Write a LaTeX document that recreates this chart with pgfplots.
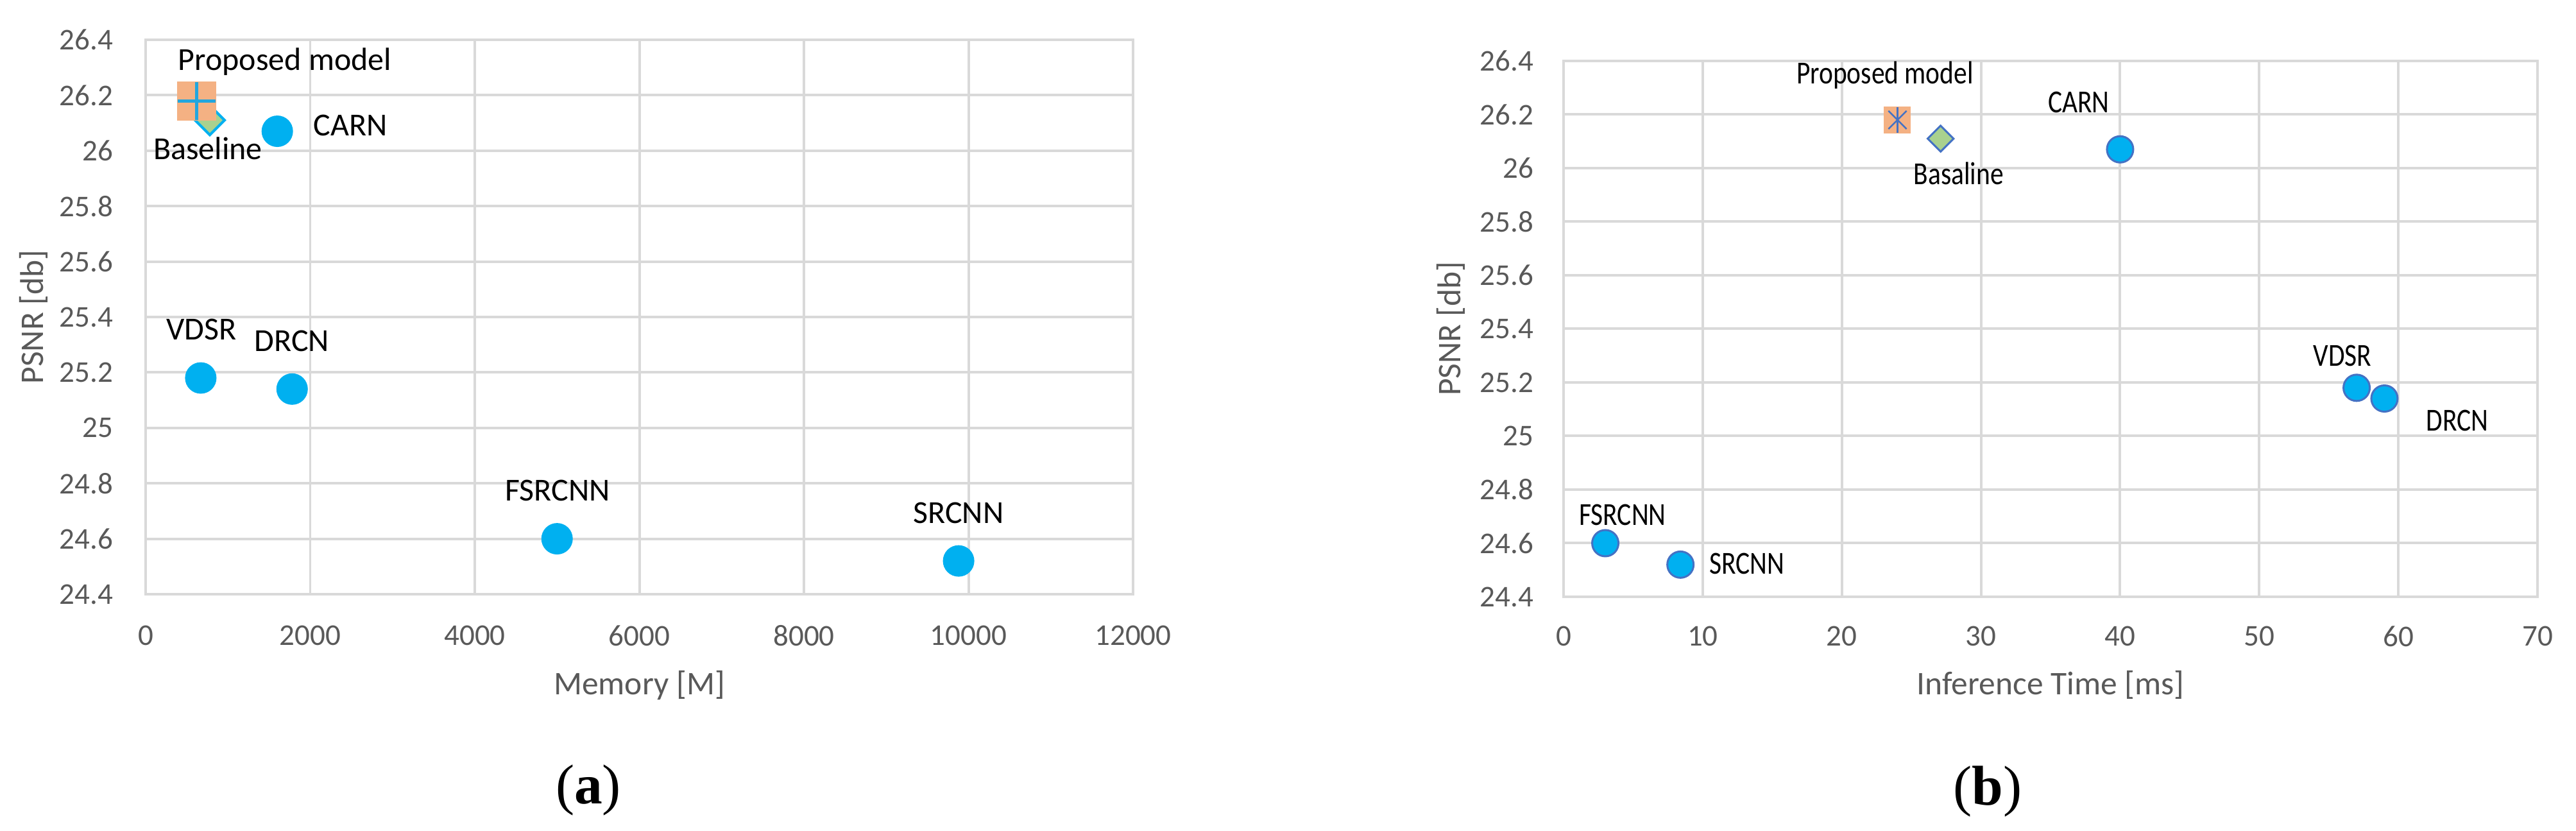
\documentclass[border=0pt]{standalone}
\usepackage{fontspec}
\setmainfont{Carlito}
\newfontfamily\capfont{Liberation Serif}
\usepackage{graphicx}
\usepackage{pgfplots}
\pgfplotsset{compat=1.18}
\definecolor{gridc}{HTML}{D9D9D9}
\definecolor{tickc}{HTML}{595959}
\definecolor{cyanc}{HTML}{00B0F0}
\definecolor{orangec}{HTML}{F4B183}
\definecolor{greenc}{HTML}{A9D18E}
\definecolor{bluec}{HTML}{4472C4}
\definecolor{plusc}{HTML}{22A6DE}
\newcommand{\rl}[1]{\scalebox{0.83}[1]{#1}}
\pgfplotsset{
  excel/.style={
    scale only axis,
    clip=false,
    axis line style={gridc, line width=0.8pt},
    grid=major,
    major grid style={gridc, line width=0.8pt},
    major tick length=0pt,
    tick style={draw=none},
    ymin=24.4, ymax=26.4,
    ytick={24.4,24.6,24.8,25,25.2,25.4,25.6,25.8,26,26.2,26.4},
    yticklabels={24.4,24.6,24.8,25,25.2,25.4,25.6,25.8,26,26.2,26.4},
    /pgf/number format/assume math mode=true,
    /pgf/number format/1000 sep={},
    scaled ticks=false,
    ticklabel style={font=\fontsize{9.4}{11}\selectfont, text=tickc},
    label style={font=\fontsize{10.3}{12}\selectfont, text=tickc},
  }
}
\begin{document}
\begin{tikzpicture}
\path[use as bounding box] (0,0) rectangle (803pt,259pt);

% ---------------- (a) ----------------
\begin{axis}[excel,
  at={(45.4pt,73.8pt)}, anchor=south west,
  width=307.8pt, height=172.8pt,
  xmin=0, xmax=12000,
  xtick={0,2000,4000,6000,8000,10000,12000},
  xticklabel style={yshift=-6.2pt},
  yticklabel style={xshift=-6.7pt},
  xlabel={Memory [M]},
  ylabel={PSNR [db]},
  xlabel style={at={(axis description cs:0.5,-0.1644)}, anchor=center},
  ylabel style={at={(axis description cs:-0.1137,0.5)}, anchor=center},
]
\addplot[only marks, mark=square*, mark size=3.25pt,
  mark options={rotate=45, fill=greenc, draw=cyanc, line width=0.8pt}]
  coordinates {(780,26.11)};
\addplot[only marks, mark=square*, mark size=5.9pt,
  mark options={fill=orangec, draw=orangec}]
  coordinates {(620,26.18)};
\addplot[only marks, mark=+, mark size=5.9pt,
  mark options={draw=plusc, line width=1pt}]
  coordinates {(620,26.18)};
\addplot[only marks, mark=*, mark size=4.7pt,
  mark options={fill=cyanc, draw=cyanc}]
  coordinates {(1600,26.07) (670,25.18) (1780,25.14) (5000,24.60) (9880,24.52)};
\begingroup
\fontsize{9.2}{11}\selectfont
\node[anchor=base] at (axis cs:1692,26.289) {Proposed model};
\node[anchor=base] at (axis cs:756,25.969) {Baseline};
\node[anchor=base] at (axis cs:2487,26.053) {CARN};
\node[anchor=base] at (axis cs:678,25.317) {VDSR};
\node[anchor=base] at (axis cs:1778,25.275) {DRCN};
\node[anchor=base] at (axis cs:5006,24.736) {FSRCNN};
\node[anchor=base] at (axis cs:9879,24.655) {SRCNN};
\endgroup
\end{axis}

% ---------------- (b) ----------------
\begin{axis}[excel,
  at={(487.4pt,73pt)}, anchor=south west,
  width=303.6pt, height=167pt,
  xmin=0, xmax=70,
  xtick={0,10,20,30,40,50,60,70},
  xticklabel style={yshift=-5.7pt},
  yticklabel style={xshift=-5.9pt},
  xlabel={Inference Time [ms]},
  ylabel={PSNR [db]},
  xlabel style={at={(axis description cs:0.5,-0.165)}, anchor=center},
  ylabel style={at={(axis description cs:-0.116,0.5)}, anchor=center},
]
\addplot[only marks, mark=square*, mark size=2.85pt,
  mark options={rotate=45, fill=greenc, draw=bluec, line width=0.6pt}]
  coordinates {(27.1,26.11)};
\addplot[only marks, mark=square*, mark size=4pt,
  mark options={fill=orangec, draw=orangec}]
  coordinates {(24,26.18)};
\addplot[only marks, mark=x, mark size=4pt,
  mark options={draw=bluec, line width=0.5pt}]
  coordinates {(24,26.18)};
\addplot[only marks, mark=|, mark size=4pt,
  mark options={draw=bluec, line width=0.5pt}]
  coordinates {(24,26.18)};
\addplot[only marks, mark=*, mark size=4.1pt,
  mark options={fill=cyanc, draw=bluec, line width=0.6pt}]
  coordinates {(40,26.07) (57,25.18) (59,25.14) (3,24.60) (8.4,24.52)};
\begingroup
\fontsize{9.3}{11}\selectfont
\node[anchor=base] at (axis cs:23.1,26.316) {\rl{Proposed model}};
\node[anchor=base] at (axis cs:28.4,25.94) {\rl{Basaline}};
\node[anchor=base] at (axis cs:37.03,26.206) {\rl{CARN}};
\node[anchor=base] at (axis cs:55.98,25.26) {\rl{VDSR}};
\node[anchor=base] at (axis cs:64.24,25.02) {\rl{DRCN}};
\node[anchor=base] at (axis cs:4.24,24.668) {\rl{FSRCNN}};
\node[anchor=base] at (axis cs:13.19,24.484) {\rl{SRCNN}};
\endgroup
\end{axis}

\node[anchor=base, font=\capfont\fontsize{17.5}{20}\selectfont] at (183.4pt,8.4pt) {(\textbf{a})};
\node[anchor=base, font=\capfont\fontsize{17.5}{20}\selectfont] at (619.6pt,8pt) {(\textbf{b})};
\end{tikzpicture}
\end{document}
